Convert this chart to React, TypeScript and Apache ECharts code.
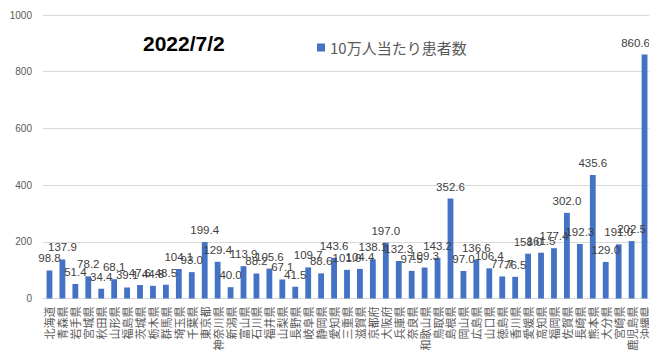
import React, { useEffect, useRef } from "react";
import * as echarts from "echarts";

const prefectures = [
  "北海道", "青森県", "岩手県", "宮城県", "秋田県", "山形県", "福島県", "茨城県", "栃木県", "群馬県",
  "埼玉県", "千葉県", "東京都", "神奈川県", "新潟県", "富山県", "石川県", "福井県", "山梨県", "長野県",
  "岐阜県", "静岡県", "愛知県", "三重県", "滋賀県", "京都府", "大阪府", "兵庫県", "奈良県", "和歌山県",
  "鳥取県", "島根県", "岡山県", "広島県", "山口県", "徳島県", "香川県", "愛媛県", "高知県", "福岡県",
  "佐賀県", "長崎県", "熊本県", "大分県", "宮崎県", "鹿児島県", "沖縄県",
];

const patientsPer100k = [
  98.8, 137.9, 51.4, 78.2, 34.4, 68.1, 39.1, 47.6, 44.8, 48.5,
  104.1, 93.0, 199.4, 129.4, 40.0, 113.9, 88.2, 105.6, 67.1, 41.5,
  109.7, 88.6, 143.6, 101.0, 104.4, 138.1, 197.0, 132.3, 97.5, 109.3,
  143.2, 352.6, 97.0, 136.6, 106.4, 77.7, 76.5, 158.0, 161.5, 177.4,
  302.0, 192.3, 435.6, 129.0, 191.0, 202.5, 860.6,
];

const seriesName = "10万人当たり患者数";
const titleText = "2022/7/2";

export default function App() {
  const ref = useRef<HTMLDivElement>(null);
  useEffect(() => {
    if (!ref.current) return;
    const chart = echarts.init(ref.current, undefined, { renderer: "svg" });
    const lastIdx = patientsPer100k.length - 1;
    chart.setOption({
      animation: false,
      backgroundColor: "#ffffff",
      title: {
        text: titleText,
        left: 138,
        top: 28,
        textStyle: {
          fontFamily: "Liberation Sans",
          fontWeight: "bold",
          fontSize: 21,
          color: "#000000",
        },
      },
      legend: {
        left: 312,
        top: 35,
        icon: "rect",
        itemWidth: 8,
        itemHeight: 8,
        itemGap: 4,
        textStyle: {
          fontFamily: "Noto Sans CJK JP",
          fontSize: 15,
          color: "#595959",
        },
        data: [seriesName],
      },
      grid: { left: 43, right: 6, top: 15, bottom: 64.5, containLabel: false },
      xAxis: {
        type: "category",
        data: prefectures,
        axisLine: { lineStyle: { color: "#d9d9d9" } },
        axisTick: { show: false },
        axisLabel: {
          interval: 0,
          rotate: 90,
          margin: 8,
          fontFamily: "Noto Sans CJK JP",
          fontSize: 11,
          color: "#595959",
        },
      },
      yAxis: {
        type: "value",
        min: 0,
        max: 1000,
        interval: 200,
        axisLine: { show: false },
        axisTick: { show: false },
        splitLine: { lineStyle: { color: "#d9d9d9" } },
        axisLabel: {
          fontFamily: "Liberation Sans",
          fontSize: 10,
          color: "#595959",
          margin: 11,
          formatter: (v: number) => String(v),
        },
      },
      series: [
        {
          name: seriesName,
          type: "bar",
          data: patientsPer100k.map((v, i) =>
            i === lastIdx ? { value: v, label: { offset: [-9, 0] } } : v
          ),
          barWidth: "45%",
          itemStyle: { color: "#4472c4" },
          label: {
            show: true,
            position: "top",
            distance: 6,
            formatter: (p: any) => Number(p.value).toFixed(1),
            fontFamily: "Liberation Sans",
            fontSize: 11.5,
            color: "#404040",
          },
        },
      ],
    });
    return () => chart.dispose();
  }, []);
  return <div ref={ref} style={{ width: 657, height: 363, margin: -8 }} />;
}
